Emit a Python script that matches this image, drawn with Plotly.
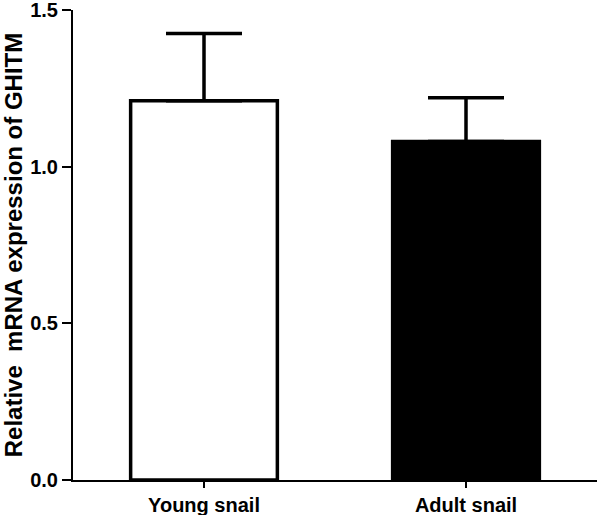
import plotly.graph_objects as go

categories = ["Young snail", "Adult snail"]
means = [1.21, 1.08]
errors_up = [0.215, 0.14]
bar_colors = ["white", "black"]
y_tick_vals = [0.0, 0.5, 1.0, 1.5]
y_tick_text = ["0.0", "0.5", "1.0", "1.5"]

font_family = "Liberation Sans, Arial, sans-serif"

fig = go.Figure(
    go.Bar(
        x=categories,
        y=means,
        width=0.56,
        marker=dict(color=bar_colors, line=dict(color="black", width=3.5)),
        error_y=dict(type="data", array=errors_up, arrayminus=[0, 0], symmetric=False,
                     color="black", thickness=3.5, width=38),
        cliponaxis=False,
        hoverinfo="skip",
    )
)

fig.update_layout(
    width=598, height=515,
    margin=dict(l=73, r=1, t=10, b=35),
    plot_bgcolor="white", paper_bgcolor="white",
    showlegend=False,
    font=dict(family=font_family, color="black"),
)

fig.update_xaxes(
    range=[-0.5, 1.5],
    automargin=False,
    showline=True, linecolor="black", linewidth=2,
    ticks="outside", ticklen=6, tickwidth=2, tickcolor="black",
    tickfont=dict(size=20, family=font_family, weight="bold"),
    ticklabeloverflow="allow",
    showgrid=False, zeroline=False,
)
fig.update_yaxes(
    range=[0, 1.5],
    automargin=False,
    tickvals=y_tick_vals, ticktext=y_tick_text,
    showline=True, linecolor="black", linewidth=2,
    ticks="outside", ticklen=9, tickwidth=2, tickcolor="black",
    tickfont=dict(size=20, family=font_family, weight="bold"),
    ticklabeloverflow="allow",
    title=dict(text="Relative  mRNA expression of GHITM",
               font=dict(size=24, family=font_family, weight="bold"), standoff=3),
    showgrid=False, zeroline=False,
)

fig.write_html(
    "out.html",
    config={"displayModeBar": False},
    post_script="document.body.style.margin='0px';document.body.style.overflow='hidden';",
)
